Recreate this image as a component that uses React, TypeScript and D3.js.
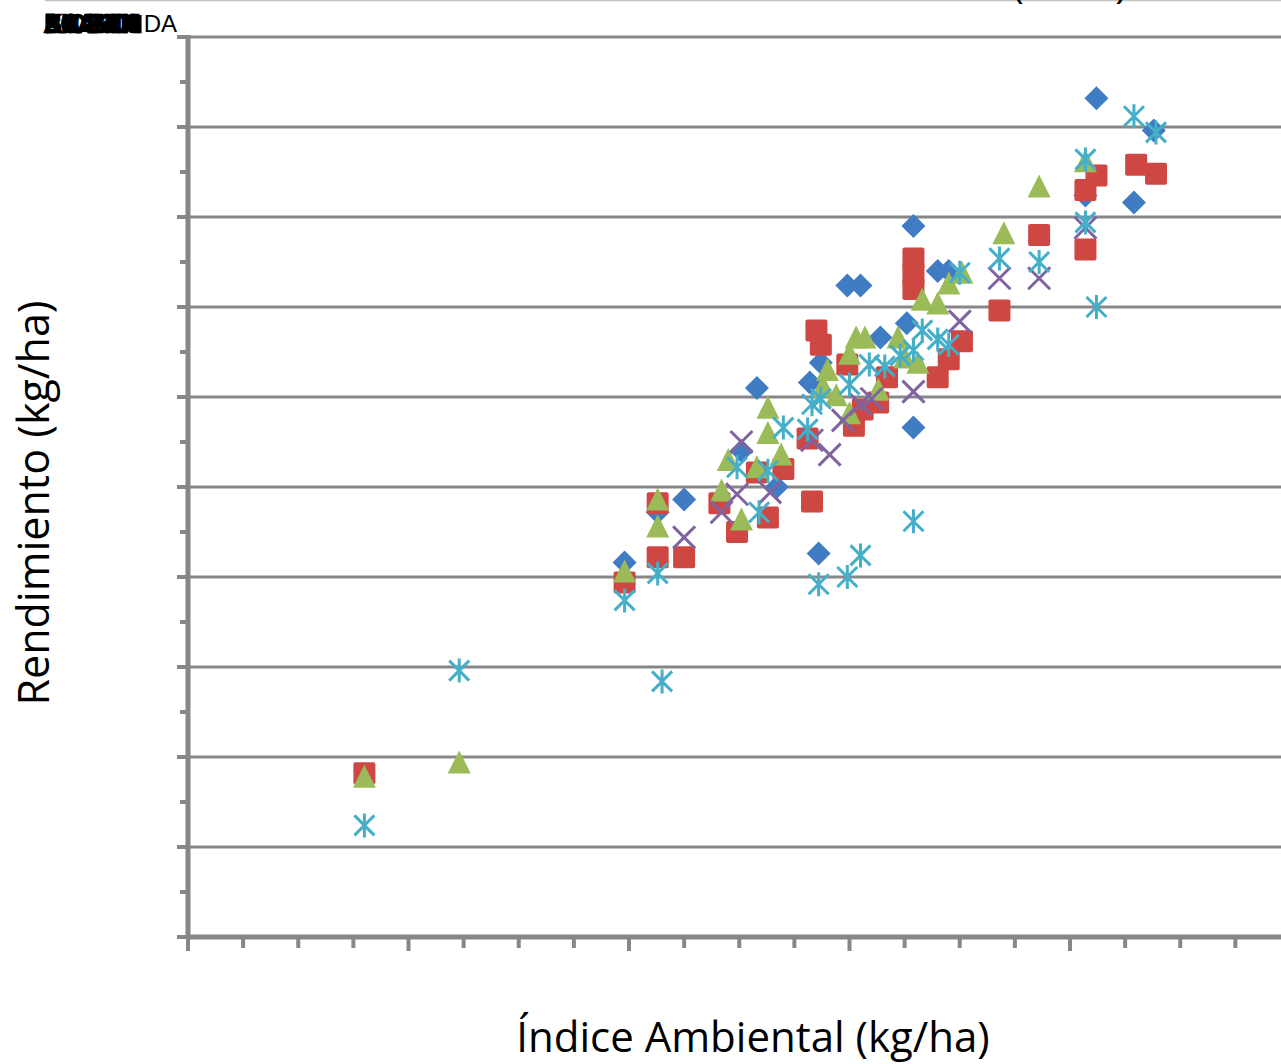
import React from "react";
import * as d3 from "d3";

// nombres de la leyenda (se superponen en el original)
const variedades = ["BAG 10", "KLEIN", "ACA 303", "BIOINTA", "B. LAPRIDA"];

// [indice ambiental, rendimiento] en kg/ha
const serie1: [number, number][] = [
  [2130, 2360], [1980, 2080], [2250, 2430], [2510, 2700], [2670, 2500], [2580, 3050],
  [2820, 3080], [2870, 3190], [2860, 2130], [2990, 3620], [3050, 3620], [3140, 3330],
  [3260, 3410], [3290, 3950], [3290, 2830], [3400, 3700], [3450, 3700], [4070, 4120],
  [4120, 4660], [4290, 4080], [4380, 4480],
];
const serie2: [number, number][] = [
  [800, 910], [1980, 1970], [2130, 2410], [2130, 2110], [2250, 2110], [2410, 2410],
  [2490, 2250], [2630, 2330], [2580, 2580], [2700, 2600], [2830, 2420], [2810, 2770],
  [2850, 3370], [2870, 3290], [2990, 3180], [3020, 2840], [3060, 2930], [3130, 2970],
  [3170, 3110], [3290, 3770], [3290, 3680], [3290, 3600], [3400, 3110], [3450, 3210],
  [3510, 3310], [3680, 3480], [3860, 3900], [4070, 3820], [4070, 4150], [4120, 4230],
  [4300, 4290], [4390, 4240],
];
const serie3: [number, number][] = [
  [800, 890], [1230, 970], [1980, 2030], [2130, 2430], [2130, 2280], [2420, 2480],
  [2450, 2650], [2510, 2320], [2630, 2940], [2630, 2800], [2690, 2680], [2580, 2610],
  [2880, 3060], [2900, 3150], [2940, 3010], [3000, 2910], [3000, 3240], [3030, 3330],
  [3070, 3330], [3130, 3040], [3220, 3330], [3250, 3220], [3310, 3190], [3330, 3540],
  [3400, 3520], [3450, 3630], [3510, 3690], [3700, 3910], [3860, 4170], [4070, 4310],
];
const serie4: [number, number][] = [
  [2250, 2220], [2510, 2750], [2420, 2360], [2490, 2460], [2640, 2470], [2830, 2760],
  [2910, 2680], [2970, 2870], [3050, 2960], [3100, 2990], [3290, 3030], [3500, 3420],
  [3680, 3660], [3860, 3660], [4070, 3940],
];
const serie5: [number, number][] = [
  [800, 620], [1230, 1480], [1980, 1870], [2130, 2020], [2150, 1420], [2490, 2610],
  [2590, 2360], [2630, 2590], [2700, 2830], [2830, 2960], [2870, 2990], [2810, 2820],
  [2860, 1960], [2990, 2000], [3050, 2120], [3000, 3070], [3090, 3180], [3160, 3170],
  [3230, 3230], [3290, 3260], [3330, 3370], [3400, 3320], [3450, 3290], [3290, 2310],
  [3500, 3690], [3680, 3770], [3860, 3750], [4070, 4320], [4070, 3970], [4120, 3500],
  [4290, 4560], [4390, 4470],
];

const W = 1281;
const H = 1064;
const gris = "#878787";

const x = d3.scaleLinear().domain([0, 5000]).range([188, 1290.5]);
const y = d3.scaleLinear().domain([0, 5000]).range([937, 37]);

const yMajor = d3.range(500, 5001, 500);
const yMinor = d3.range(250, 5000, 500);
const xMajor = d3.range(0, 5001, 1000);
const xMinor = d3.range(0, 5001, 250).filter(v => v % 1000 !== 0);

const diamond = (cx: number, cy: number) => {
  const r = 12;
  return `M${cx},${cy - r}L${cx + r},${cy}L${cx},${cy + r}L${cx - r},${cy}Z`;
};
const triangle = (cx: number, cy: number) => {
  const h = 22, w = 23;
  return `M${cx},${cy - h / 2 - 1}L${cx + w / 2},${cy + h / 2}L${cx - w / 2},${cy + h / 2}Z`;
};

export default function App() {
  return (
    <div style={{position: "absolute", left: 0, top: 0}}>
      <svg width={W} height={H} style={{display: "block", background: "#fff"}}>
        <line x1={45} x2={W} y1={0.5} y2={0.5} stroke="#c4c4c4" strokeWidth={1.5} />
        <text x={1127} y={-2} textAnchor="end" fontFamily="Open Sans" fontSize={40}>
          Rendimiento vs Índice Ambiental (2010)
        </text>

        {/* gridlines */}
        {yMajor.map(v => (
          <line key={"g" + v} x1={x(0)} x2={W} y1={y(v)} y2={y(v)} stroke={gris} strokeWidth={3} />
        ))}

        {/* ticks */}
        {yMajor.concat([0]).map(v => (
          <line key={"ty" + v} x1={177} x2={190} y1={y(v)} y2={y(v)} stroke={gris} strokeWidth={4} />
        ))}
        {yMinor.map(v => (
          <line key={"tm" + v} x1={180} x2={188} y1={y(v)} y2={y(v)} stroke={gris} strokeWidth={4} />
        ))}
        {xMajor.map(v => (
          <line key={"tx" + v} x1={x(v)} x2={x(v)} y1={935} y2={951} stroke={gris} strokeWidth={4} />
        ))}
        {xMinor.map(v => (
          <line key={"txm" + v} x1={x(v)} x2={x(v)} y1={935} y2={948} stroke={gris} strokeWidth={4} />
        ))}

        {/* ejes */}
        <line x1={x(0)} x2={x(0)} y1={y(5000) - 2} y2={y(0) + 2} stroke={gris} strokeWidth={5} />
        <line x1={x(0) - 2} x2={W} y1={y(0)} y2={y(0)} stroke={gris} strokeWidth={5} />

        {/* series */}
        {serie1.map((d, i) => (
          <path key={"a" + i} d={diamond(x(d[0]), y(d[1]))} fill="#3f7cc4" />
        ))}
        {serie2.map((d, i) => (
          <rect key={"b" + i} x={x(d[0]) - 11} y={y(d[1]) - 11} width={22} height={22} rx={2} fill="#cf4743" />
        ))}
        {serie3.map((d, i) => (
          <path key={"c" + i} d={triangle(x(d[0]), y(d[1]))} fill="#9bbb59" />
        ))}
        {serie4.map((d, i) => {
          const cx = x(d[0]), cy = y(d[1]), r = 11;
          return (
            <path key={"d" + i} d={`M${cx - r},${cy - r}L${cx + r},${cy + r}M${cx - r},${cy + r}L${cx + r},${cy - r}`}
              stroke="#8064a2" strokeWidth={3} />
          );
        })}
        {serie5.map((d, i) => {
          const cx = x(d[0]), cy = y(d[1]), r = 10;
          return (
            <path key={"e" + i}
              d={`M${cx - r},${cy - r}L${cx + r},${cy + r}M${cx - r},${cy + r}L${cx + r},${cy - r}M${cx},${cy - 12}L${cx},${cy + 12}`}
              stroke="#45aec9" strokeWidth={3} />
          );
        })}

        {/* leyenda superpuesta */}
        {variedades.map((v, i) => (
          <text key={"l" + i} x={45} y={32} fontFamily="Liberation Sans" fontSize={24}
            textLength={i < variedades.length - 1 ? 95 : undefined}
            stroke={i < variedades.length - 1 ? "#000" : "none"} strokeWidth={2.5}>{v}</text>
        ))}

        {/* titulos de ejes */}
        <text x={753} y={1052} textAnchor="middle" fontFamily="Open Sans" fontSize={42}>
          Índice Ambiental (kg/ha)
        </text>
        <text transform="translate(49,503) rotate(-90)" textAnchor="middle" fontFamily="Open Sans" fontSize={43}>
          Rendimiento (kg/ha)
        </text>
      </svg>
    </div>
  );
}
